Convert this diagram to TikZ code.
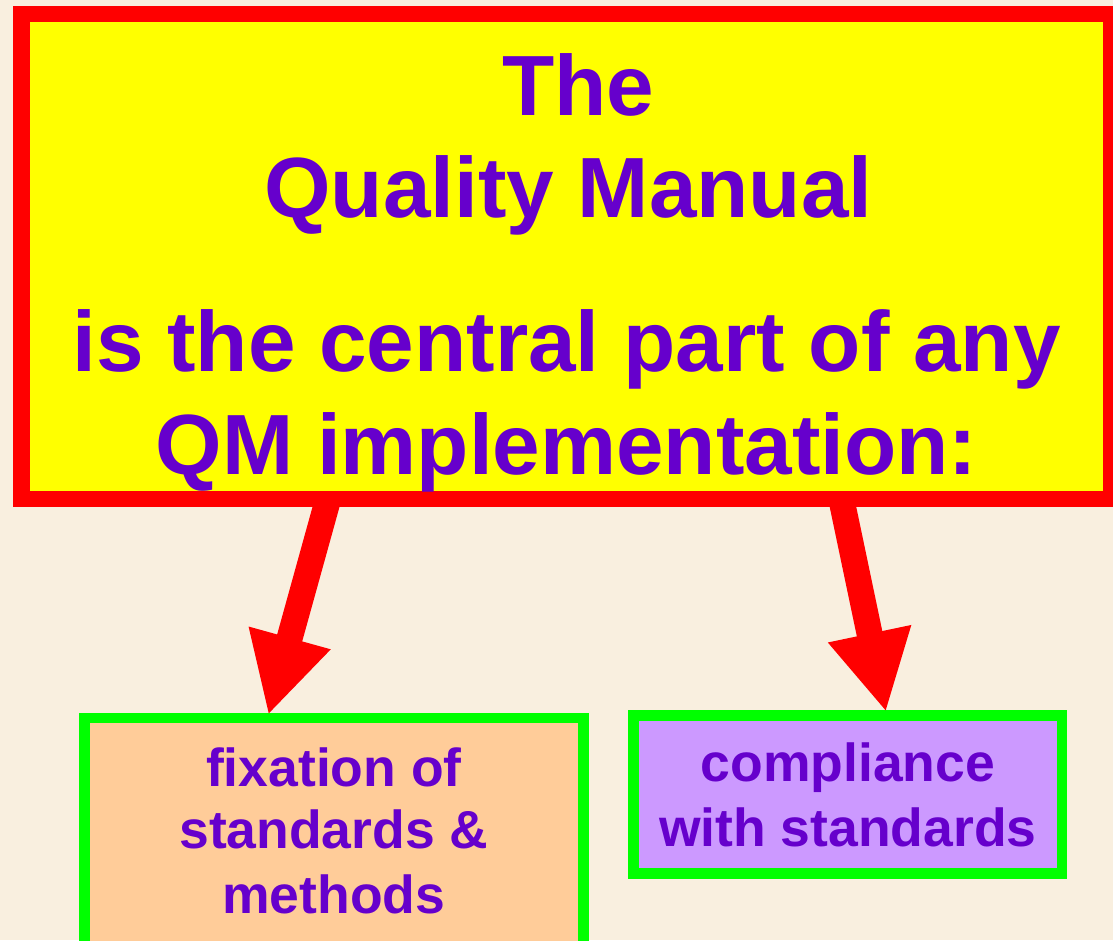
\documentclass[tikz,border=0pt]{standalone}
\usepackage{fontspec}
\setmainfont{Liberation Sans}
\usetikzlibrary{arrows.meta}
\definecolor{bgcol}{HTML}{F9EFDF}
\definecolor{txtcol}{HTML}{6600CC}
\definecolor{peach}{HTML}{FFCC99}
\definecolor{lavender}{HTML}{CC99FF}
\definecolor{lime}{HTML}{00FF00}
\definecolor{boxyellow}{HTML}{FFFF00}
\definecolor{boxred}{HTML}{FF0000}
\tikzset{
  mainbox/.style={draw=boxred, fill=boxyellow, line width=16.5pt, inner sep=0pt},
  subbox/.style={draw=lime, line width=10.8pt, inner sep=0pt},
  bigtxt/.style={text=txtcol, font=\fontsize{85.5}{102}\selectfont\bfseries, inner sep=0pt, anchor=base},
  smalltxt/.style={text=txtcol, font=\fontsize{53.5}{64}\selectfont\bfseries, inner sep=0pt, anchor=base},
  bigarrow/.style={draw=boxred, line width=26pt, -{Triangle[length=80pt,width=79pt]}}
}
\begin{document}
\begin{tikzpicture}[x=1pt,y=-1pt]
\useasboundingbox (0,0) rectangle (1113,940);
\clip (0,0) rectangle (1113,940);
\fill[bgcol] (0,0) rectangle (1113,940);
% top box
\node[mainbox, minimum width=1090pt, minimum height=485pt] (top) at (566.5,256.25) {};
\node[bigtxt] (t1) at (578,115) {The};
\node[bigtxt] (t2) at (568.5,217) {Quality Manual};
\node[bigtxt] (t3) at (566.5,371.7) {is the central part of any};
\node[bigtxt] (t4) at (566.5,474) {QM implementation:};
% bottom boxes
\node[subbox, fill=peach, minimum width=498.7pt, minimum height=230pt] (lbox) at (333.9,833) {};
\node[smalltxt] (l1) at (333.9,786) {fixation of};
\node[smalltxt] (l2) at (333.9,848.3) {standards \&};
\node[smalltxt] (l3) at (333.9,913.3) {methods};
\node[subbox, fill=lavender, minimum width=428.5pt, minimum height=158pt] (rbox) at (847.8,794.5) {};
\node[smalltxt] (r1) at (847.8,781.7) {compliance};
\node[smalltxt] (r2) at (847.8,846.7) {with standards};
% arrows
\coordinate (a1s) at (328.2,499);
\coordinate (a1e) at (268.3,715);
\coordinate (a2s) at (841.3,499);
\coordinate (a2e) at (886,712);
\draw[bigarrow] (a1s) -- (a1e);
\draw[bigarrow] (a2s) -- (a2e);
\end{tikzpicture}
\end{document}
